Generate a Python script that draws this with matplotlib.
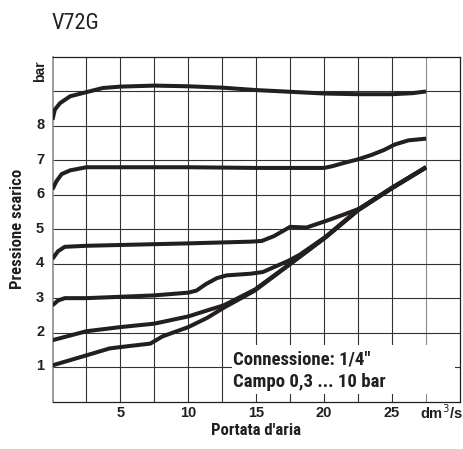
import matplotlib
matplotlib.use("Agg")
import matplotlib.pyplot as plt
import matplotlib.transforms as mtransforms
from matplotlib import font_manager
from matplotlib.patches import Rectangle
import numpy as np

# curves (x = dm3/s, y = bar)
x_top = [0, 0.17, 0.55, 1.3, 2.5, 3.7, 5, 7.5, 10, 12.5, 15, 17.5, 20, 22.5, 25, 26.5, 27.5]
y_top = [8.18, 8.47, 8.66, 8.86, 8.98, 9.1, 9.14, 9.17, 9.15, 9.11, 9.04, 8.99, 8.94, 8.92, 8.92, 8.95, 9.0]

x_7 = [0, 0.3, 0.67, 1.3, 2.5, 10, 15, 20, 20.6, 21.5, 22.5, 23.5, 24.4, 25.2, 26.2, 27.5]
y_7 = [6.16, 6.4, 6.6, 6.71, 6.8, 6.8, 6.78, 6.78, 6.83, 6.93, 7.03, 7.16, 7.3, 7.46, 7.58, 7.63]

x_45 = [0, 0.4, 0.9, 2.5, 10, 14.6, 15.4, 16.3, 17.5, 18.7, 20.2, 21.4, 22.6, 25, 27.5]
y_45 = [4.14, 4.36, 4.49, 4.52, 4.59, 4.64, 4.66, 4.8, 5.07, 5.05, 5.25, 5.42, 5.6, 6.21, 6.8]

x_3 = [0, 0.4, 0.9, 2.5, 7.5, 10, 10.6, 11.3, 12.1, 12.8, 14.6, 15.5, 16.3, 17.4, 18.2, 20.1, 22.5, 25, 27.5]
y_3 = [2.79, 2.93, 3.0, 3.0, 3.08, 3.16, 3.22, 3.41, 3.58, 3.66, 3.71, 3.76, 3.9, 4.09, 4.26, 4.78, 5.57, 6.2, 6.8]

x_2 = [0, 2.5, 5, 7.5, 10, 11.6, 12.6, 14.9, 17.5, 20.1, 22.5, 25, 27.5]
y_2 = [1.78, 2.04, 2.16, 2.26, 2.47, 2.67, 2.79, 3.25, 4.0, 4.77, 5.56, 6.2, 6.8]

x_1 = [0, 2.5, 4.2, 5, 7.2, 8.1, 10, 11.4, 12.6, 14.9, 17.5, 20.1, 22.5, 25, 27.5]
y_1 = [1.05, 1.34, 1.54, 1.58, 1.68, 1.89, 2.16, 2.43, 2.72, 3.22, 3.99, 4.76, 5.55, 6.19, 6.79]

curves = [(x_top, y_top), (x_7, y_7), (x_45, y_45), (x_3, y_3), (x_2, y_2), (x_1, y_1)]

xtick_vals = [5, 10, 15, 20, 25]
ytick_vals = [1, 2, 3, 4, 5, 6, 7, 8]


def pick_font(names):
    for n in names:
        try:
            font_manager.findfont(n, fallback_to_default=False)
            return n
        except ValueError:
            pass
    return "DejaVu Sans"


narrow = pick_font(["Liberation Sans Narrow", "Roboto Condensed", "DejaVu Sans"])
plain = pick_font(["Liberation Sans", "DejaVu Sans"])

fig = plt.figure(figsize=(4.63, 4.49), dpi=100)
W, H = 463, 449
ax = fig.add_axes([52.5 / W, 1 - 401.5 / H, (460 - 52.5) / W, (401.5 - 57) / H])
ax.set_xlim(0, 30)
ax.set_ylim(0, 10)

ink = "#231f20"
for xs, ys in curves:
    ax.plot(xs, ys, color=ink, lw=2.9, solid_capstyle="butt", solid_joinstyle="round", zorder=3)

# grid
for gx in np.arange(2.5, 30, 2.5):
    ax.axvline(gx, color="#8c8c8c" if gx == 27.5 else "#333333", lw=0.8, zorder=0.5)
for gy in range(1, 10):
    ax.axhline(gy, color="#333333", lw=0.8, zorder=0.5)

# white box behind the note
ax.add_patch(Rectangle((13.2, 0.22), 16.45, 1.41, facecolor="white", edgecolor="none", zorder=1))
ax.text(13.28, 1.075, 'Connessione: 1/4"', family=narrow, fontweight="bold", fontsize=13.5,
        color=ink, va="baseline", zorder=4)
ax.text(13.28, 0.43, "Campo 0,3 ... 10 bar", family=narrow, fontweight="bold", fontsize=13.5,
        color=ink, va="baseline", zorder=4)

for s in ["top", "right", "bottom"]:
    ax.spines[s].set_color(ink)
    ax.spines[s].set_linewidth(0.9)
ax.spines["left"].set_color("#8c8c8c")
ax.spines["left"].set_linewidth(1.2)

ax.set_xticks(xtick_vals)
ax.set_xticklabels([str(v) for v in xtick_vals])
ax.set_yticks(ytick_vals)
ax.set_yticklabels([str(v) for v in ytick_vals])
ax.tick_params(axis="both", length=0, labelsize=10.5, labelcolor=ink)
ax.tick_params(axis="x", pad=3)
ax.tick_params(axis="y", pad=6)
for lab in ax.get_xticklabels() + ax.get_yticklabels():
    lab.set_family(plain)
    lab.set_fontweight("bold")
off = mtransforms.ScaledTranslation(0, 1.5 / 72, fig.dpi_scale_trans)
for lab in ax.get_yticklabels():
    lab.set_transform(lab.get_transform() + off)

ax.text(28.6, -0.04, "dm$^3$/s", family=plain, fontweight="bold", fontsize=10.5, color=ink,
        ha="center", va="top")
ax.text(-0.031, 9.6, "bar", transform=mtransforms.blended_transform_factory(ax.transAxes, ax.transData),
        family=plain, fontweight="bold", fontsize=10, color=ink, rotation=90, ha="center", va="center")

ax.text(0.5, -0.0856, "Portata d'aria", transform=ax.transAxes, family=narrow, fontweight="bold",
        fontsize=12, color=ink, ha="center", va="center")
ax.text(-0.086, 0.5, "Pressione scarico", transform=ax.transAxes, family=narrow, fontweight="bold",
        fontsize=12, color=ink, ha="center", va="center", rotation=90)

fig.text(52 / W, 1 - 23.5 / H, "V72G", family=narrow, fontsize=16, color=ink, ha="left", va="center")

fig.savefig("out.png", dpi=100)
